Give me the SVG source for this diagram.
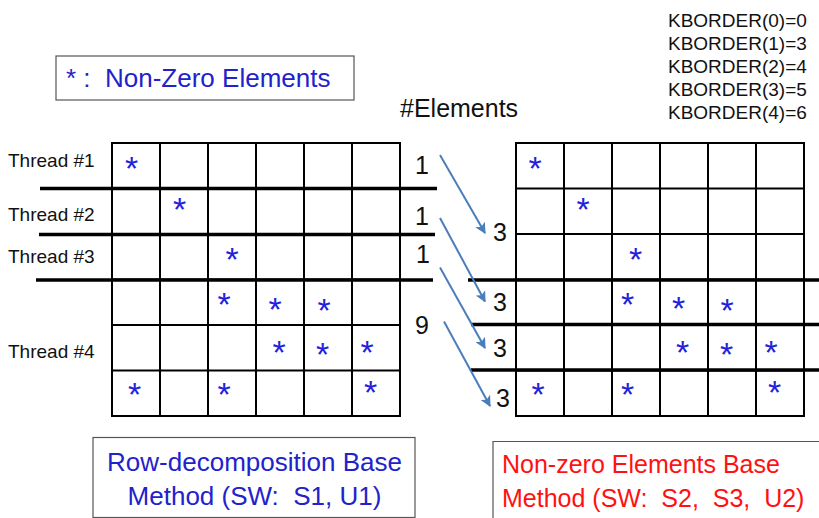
<svg xmlns="http://www.w3.org/2000/svg" width="819" height="518" viewBox="0 0 819 518">
<style>
.grid{fill:none;stroke:#000;stroke-width:2}
.thick{stroke:#000;stroke-width:3.5}
.lbl{font-family:"Liberation Sans",Arial,sans-serif;fill:#111}
.ast{font-family:"Liberation Sans",Arial,sans-serif;font-size:34px;fill:#2222dd;text-anchor:middle}
.arr{stroke:#4a7ebb;stroke-width:2;fill:none;marker-end:url(#ah)}
.blue{font-family:"Liberation Sans",Arial,sans-serif;font-size:26px;fill:#2222cc;white-space:pre}
.red{font-family:"Liberation Sans",Arial,sans-serif;font-size:25px;fill:#ff1111;white-space:pre}
</style>
<defs>
<marker id="ah" viewBox="0 0 10 10" refX="9" refY="5" markerWidth="5.5" markerHeight="5.5" orient="auto" markerUnits="strokeWidth">
<path d="M0,0 L10,5 L0,10 L2.5,5 Z" fill="#4a7ebb"/>
</marker>
</defs>
<rect width="819" height="518" fill="#fff"/>

<g id="legend">
<rect x="56" y="56" width="298" height="44" fill="#fff" stroke="#555" stroke-width="1.2"/>
<text class="blue" x="66" y="87" xml:space="preserve">* :  Non-Zero Elements</text>
</g>

<g id="kborder" class="lbl" font-size="19">
<text x="668" y="27">KBORDER(0)=0</text>
<text x="668" y="50">KBORDER(1)=3</text>
<text x="668" y="73">KBORDER(2)=4</text>
<text x="668" y="96">KBORDER(3)=5</text>
<text x="668" y="119">KBORDER(4)=6</text>
</g>

<g id="elements-title">
<text class="lbl" x="400" y="117" font-size="25">#Elements</text>
</g>

<g id="left-matrix">
<rect class="grid" x="112" y="143" width="288" height="273"/>
<path class="grid" d="M160,143V416M208,143V416M256,143V416M304,143V416M352,143V416M112,188.5H400M112,234H400M112,279.5H400M112,325H400M112,370.5H400"/>
<text class="ast" x="131.5" y="180">*</text>
<text class="ast" x="179.5" y="221">*</text>
<text class="ast" x="232" y="271">*</text>
<text class="ast" x="224" y="316">*</text>
<text class="ast" x="275" y="321">*</text>
<text class="ast" x="324" y="322">*</text>
<text class="ast" x="279" y="364">*</text>
<text class="ast" x="322.5" y="366">*</text>
<text class="ast" x="367" y="364">*</text>
<text class="ast" x="134.5" y="406">*</text>
<text class="ast" x="224" y="406">*</text>
<text class="ast" x="370.5" y="404">*</text>
</g>

<g id="threads" class="lbl" font-size="19">
<text x="8" y="167">Thread #1</text>
<text x="8" y="221">Thread #2</text>
<text x="8" y="263">Thread #3</text>
<text x="8" y="358">Thread #4</text>
</g>

<g id="left-splits">
<line class="thick" x1="40" y1="188.5" x2="437" y2="188.5"/>
<line class="thick" x1="39" y1="234.5" x2="435" y2="234.5"/>
<line class="thick" x1="36" y1="280" x2="433" y2="280"/>
</g>

<g id="counts-left" class="lbl" font-size="25">
<text x="415" y="174">1</text>
<text x="415" y="225">1</text>
<text x="416" y="263">1</text>
<text x="415" y="334">9</text>
</g>

<g id="right-matrix">
<rect class="grid" x="516" y="143" width="288" height="273"/>
<path class="grid" d="M564,143V416M612,143V416M660,143V416M708,143V416M756,143V416M516,188.5H804M516,234H804M516,279.5H804M516,325H804M516,370.5H804"/>
<text class="ast" x="535" y="180">*</text>
<text class="ast" x="583" y="221">*</text>
<text class="ast" x="635.5" y="271">*</text>
<text class="ast" x="627.5" y="316">*</text>
<text class="ast" x="678.5" y="320">*</text>
<text class="ast" x="727" y="322">*</text>
<text class="ast" x="682.5" y="364">*</text>
<text class="ast" x="726.5" y="366">*</text>
<text class="ast" x="771" y="364">*</text>
<text class="ast" x="538" y="406">*</text>
<text class="ast" x="627.5" y="406">*</text>
<text class="ast" x="774.5" y="404">*</text>
</g>

<g id="right-splits">
<line class="thick" x1="468" y1="280" x2="819" y2="280"/>
<line class="thick" x1="471" y1="324.5" x2="819" y2="324.5"/>
<line class="thick" x1="471" y1="370" x2="819" y2="370"/>
</g>

<g id="counts-right" class="lbl" font-size="25">
<text x="493" y="241">3</text>
<text x="493" y="311">3</text>
<text x="493" y="357">3</text>
<text x="496" y="407">3</text>
</g>

<g id="connectors">
<line class="arr" x1="440" y1="155" x2="485" y2="233"/>
<line class="arr" x1="440" y1="218" x2="485" y2="301.5"/>
<line class="arr" x1="440" y1="267.5" x2="485" y2="348"/>
<line class="arr" x1="444" y1="321.5" x2="490" y2="406"/>
</g>

<g id="box-row">
<rect x="93" y="437.5" width="322" height="80" fill="#fff" stroke="#555" stroke-width="1.2"/>
<text class="blue" x="254.5" y="471" text-anchor="middle">Row-decomposition Base</text>
<text class="blue" x="254.5" y="505" text-anchor="middle" xml:space="preserve">Method (SW:  S1, U1)</text>
</g>

<g id="box-nz">
<path d="M493,518V441.5H819" fill="none" stroke="#555" stroke-width="1.2"/>
<text class="red" x="502" y="473">Non-zero Elements Base</text>
<text class="red" x="502" y="507" xml:space="preserve">Method (SW:  S2,  S3,  U2)</text>
</g>
</svg>
